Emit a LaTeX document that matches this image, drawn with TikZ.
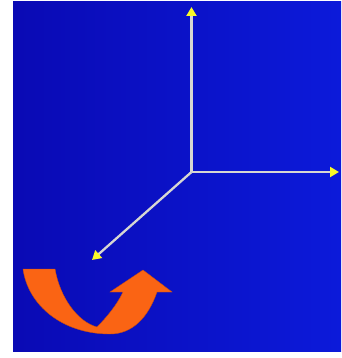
\documentclass[tikz,border=0pt]{standalone}
\usetikzlibrary{arrows.meta}
\definecolor{bgdark}{RGB}{10,10,180}
\definecolor{bglight}{RGB}{12,26,218}
\definecolor{axisgray}{RGB}{215,215,210}
\definecolor{tipyellow}{RGB}{250,250,40}
\definecolor{curvorange}{RGB}{250,100,20}
\tikzset{
  axisline/.style={draw=axisgray, line width=2.3pt,
    -{Triangle[color=tipyellow, length=9pt, width=10pt]}},
  bent/.style={fill=curvorange, draw=curvorange!80!black, line width=0.4pt}
}
\begin{document}
\begin{tikzpicture}[x=1pt,y=-1pt]
\useasboundingbox (0,0) rectangle (341,358);
\fill[white] (0,0) rectangle (341,358);
\shade[left color=bgdark, right color=bglight] (13,2) rectangle (341,351);
\coordinate (O) at (191.5,172);
\coordinate (Y) at (191.5,7);
\coordinate (X) at (339,172);
\coordinate (Z) at (92,260);
\draw[axisline] (O) -- (Y);
\draw[axisline] (O) -- (X);
\draw[axisline] (O) -- (Z);
% curved orange arrow
\path[bent] (23,269) -- (55,269)
  .. controls (60,298) and (78,322) .. (97,327)
  .. controls (106,318) and (117,305) .. (123,292)
  -- (110,292) -- (143,270) -- (172,292) -- (157,292)
  .. controls (148,318) and (132,334) .. (110,334)
  .. controls (62,334) and (28,305) .. cycle;
\end{tikzpicture}
\end{document}
